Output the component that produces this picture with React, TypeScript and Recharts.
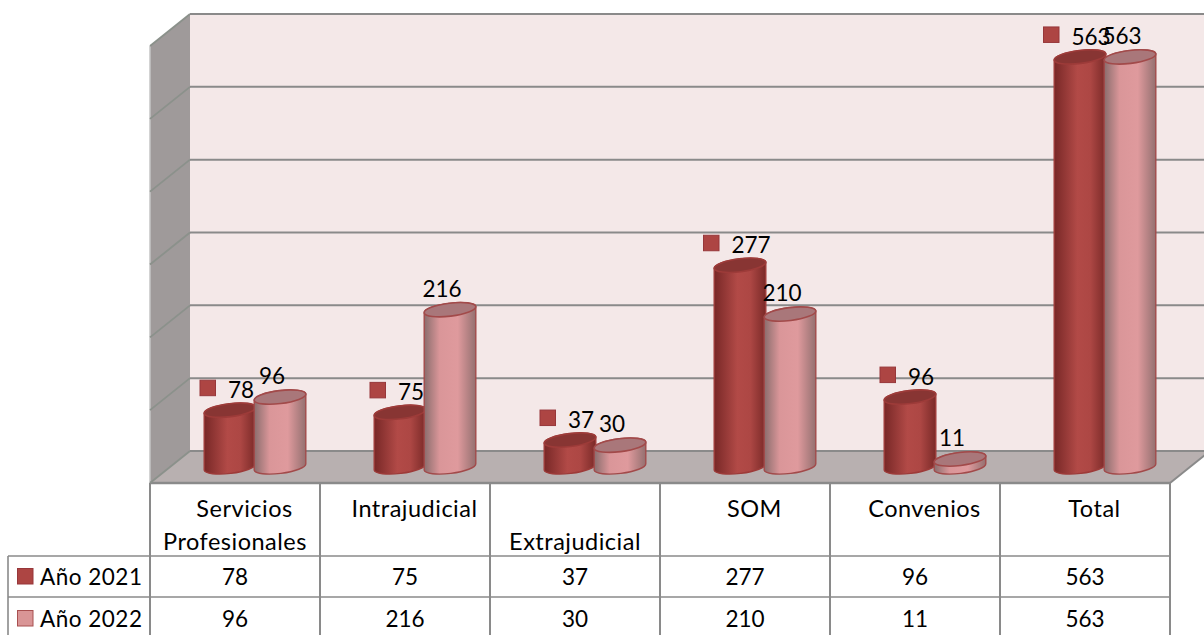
import React from "react";
import { BarChart, Bar, XAxis, YAxis, CartesianGrid, LabelList } from "recharts";

const categories = ["Servicios\nProfesionales", "Intrajudicial", "\nExtrajudicial", "SOM", "Convenios", "Total"];
const seriesNames = ["Año 2021", "Año 2022"];
const values2021 = [78, 75, 37, 277, 96, 563];
const values2022 = [96, 216, 30, 210, 11, 563];
const yTicks = [0, 100, 200, 300, 400, 500, 600];

const data = categories.map((category, i) => ({
  category,
  y2021: values2021[i],
  y2022: values2022[i],
}));

const WIDTH = 1204;
const HEIGHT = 635;
const LEFT = 150;
const RIGHT = 1170;
const TOP = 46;
const BOTTOM = 483;
// depth of the fake 3d box
const DX = 40;
const DY = 32;
// cylinders stand halfway into the box
const BAR_DX = 20;
const BAR_DY = 16;

const FONT = "Lato, sans-serif";
const FONT_SIZE = 22.5;
const NAME_SIZE = 23.5;
const LINE = "#8a8a8a";
const DARK_KEY = "#ad4543";
const LIGHT_KEY = "#d99596";
const ROW1 = 556;
const ROW2 = 597;

// back wall, side wall and floor sit behind the chart's own svg
function Walls() {
  return (
    <svg width={WIDTH} height={HEIGHT} style={{ position: "absolute", left: 0, top: 0 }}>
      <rect x={LEFT + DX} y={TOP - DY} width={RIGHT - LEFT} height={BOTTOM - TOP} fill="#f4e8e8" />
      <polygon
        points={`${LEFT},${TOP} ${LEFT + DX},${TOP - DY} ${LEFT + DX},${BOTTOM - DY} ${LEFT},${BOTTOM}`}
        fill="#9f9a9a"
      />
      <polygon
        points={`${LEFT},${BOTTOM} ${LEFT + DX},${BOTTOM - DY} ${RIGHT + DX},${BOTTOM - DY} ${RIGHT},${BOTTOM}`}
        fill="#b8b0b0"
      />
      <line x1={LEFT} y1={TOP} x2={LEFT} y2={BOTTOM} stroke="#c4c4c4" strokeWidth={1.5} />
      <line x1={LEFT} y1={BOTTOM} x2={RIGHT} y2={BOTTOM} stroke={LINE} strokeWidth={2.5} />
      <line x1={RIGHT} y1={BOTTOM} x2={RIGHT + DX} y2={BOTTOM - DY} stroke={LINE} strokeWidth={2} />
    </svg>
  );
}

// one grid value: runs up the left wall, then across the back wall
function GridLine(props: any) {
  const y = props.y1;
  return (
    <g key={props.key}>
      <line x1={LEFT} y1={y} x2={LEFT + DX} y2={y - DY} stroke="#8b918b" strokeWidth={1.8} />
      <line x1={LEFT + DX} y1={y - DY} x2={RIGHT + DX} y2={y - DY} stroke={LINE} strokeWidth={2} />
    </g>
  );
}

function Cylinder(props: any) {
  const { x, y, width, height, body, cap, edge } = props;
  const cx = x + width / 2 + BAR_DX;
  const top = y - BAR_DY;
  const base = y + height - BAR_DY;
  const rx = 26;
  const ry = 6.5;
  const ox = 25.8;
  const oy = 3.2;
  const d =
    `M${cx - ox},${top + oy} L${cx - ox},${base + oy} ` +
    `A${rx},${ry} -7 0 0 ${cx + ox},${base - oy} L${cx + ox},${top - oy} ` +
    `A${rx},${ry} -7 0 0 ${cx - ox},${top + oy} Z`;
  return (
    <g>
      <path d={d} fill={body} stroke={edge} strokeWidth={1.4} />
      <ellipse
        cx={cx}
        cy={top}
        rx={rx}
        ry={ry}
        transform={`rotate(-7 ${cx} ${top})`}
        fill={cap}
        stroke={edge}
        strokeWidth={1.6}
      />
    </g>
  );
}

function DarkLabel(props: any) {
  const { x, y, width, value } = props;
  const cx = x + width / 2 + BAR_DX;
  const top = y - BAR_DY;
  const textX = cx + 11;
  const w = String(value).length * 13;
  return (
    <g>
      <rect
        x={textX - w / 2 - 28}
        y={top - 30}
        width={15.5}
        height={15.5}
        fill={DARK_KEY}
        stroke="#97373a"
        strokeWidth={1}
      />
      <text x={textX} y={top - 12} textAnchor="middle" fontFamily={FONT} fontSize={FONT_SIZE} fill="#000">
        {value}
      </text>
    </g>
  );
}

function LightLabel(props: any) {
  const { x, y, width, value } = props;
  const cx = x + width / 2 + BAR_DX;
  const top = y - BAR_DY;
  return (
    <text x={cx - 8} y={top - 13} textAnchor="middle" fontFamily={FONT} fontSize={FONT_SIZE} fill="#000">
      {value}
    </text>
  );
}

// category names and the two value rows of the data table hang off each x tick
function TableColumn(props: any) {
  const { x, payload, index } = props;
  const lines = String(payload.value).split("\n");
  const left = x - 85;
  const right = x + 85;
  return (
    <g fontFamily={FONT} fontSize={FONT_SIZE} fill="#000" textAnchor="middle">
      <line x1={left} y1={BOTTOM} x2={left} y2={HEIGHT} stroke={LINE} strokeWidth={2} />
      <line x1={right} y1={BOTTOM} x2={right} y2={HEIGHT} stroke={LINE} strokeWidth={2} />
      <line x1={left} y1={ROW1} x2={right} y2={ROW1} stroke={LINE} strokeWidth={1.6} />
      <line x1={left} y1={ROW2} x2={right} y2={ROW2} stroke={LINE} strokeWidth={1.6} />
      <text x={x + 9.5} y={517} fill="#000" fontSize={NAME_SIZE} letterSpacing={0.5}>{lines[0]}</text>
      {lines[1] ? <text x={x} y={550} fill="#000" fontSize={NAME_SIZE} letterSpacing={0.5}>{lines[1]}</text> : null}
      <text x={x} y={585} fill="#000">{values2021[index]}</text>
      <text x={x} y={627} fill="#000">{values2022[index]}</text>
    </g>
  );
}

function TableLegend() {
  return (
    <g fontFamily={FONT} fontSize={FONT_SIZE} fill="#000" letterSpacing={0.5}>
      <line x1={8} y1={ROW1} x2={LEFT} y2={ROW1} stroke={LINE} strokeWidth={1.6} />
      <line x1={8} y1={ROW2} x2={LEFT} y2={ROW2} stroke={LINE} strokeWidth={1.6} />
      <line x1={8} y1={ROW1} x2={8} y2={HEIGHT} stroke={LINE} strokeWidth={1.6} />
      <rect x={17.5} y={568.5} width={15.5} height={15.5} fill={DARK_KEY} stroke="#97373a" />
      <rect x={17.5} y={610.5} width={15.5} height={15.5} fill={LIGHT_KEY} stroke="#a85050" />
      <text x={40} y={585}>{seriesNames[0]}</text>
      <text x={40} y={627}>{seriesNames[1]}</text>
    </g>
  );
}

export default function App() {
  return (
    <div style={{ position: "absolute", left: 0, top: 0, width: WIDTH, height: HEIGHT, overflow: "hidden", background: "#fff" }}>
      <Walls />
      <BarChart
        width={WIDTH}
        height={HEIGHT}
        data={data}
        barSize={50}
        barGap={0}
        margin={{ top: TOP, right: WIDTH - RIGHT, bottom: 0, left: LEFT }}
      >
        <defs>
          <linearGradient id="darkBody" x1="0" y1="0" x2="1" y2="0">
            <stop offset="0%" stopColor="#782827" />
            <stop offset="45%" stopColor="#b24a47" />
            <stop offset="70%" stopColor="#ad4744" />
            <stop offset="100%" stopColor="#7a2a28" />
          </linearGradient>
          <linearGradient id="lightBody" x1="0" y1="0" x2="1" y2="0">
            <stop offset="0%" stopColor="#8a6d6d" />
            <stop offset="30%" stopColor="#da9699" />
            <stop offset="65%" stopColor="#df9a9d" />
            <stop offset="100%" stopColor="#947070" />
          </linearGradient>
        </defs>
        <CartesianGrid vertical={false} horizontal={GridLine} />
        <XAxis
          dataKey="category"
          interval={0}
          axisLine={false}
          tickLine={false}
          tickSize={0}
          tickMargin={0}
          height={HEIGHT - BOTTOM}
          tick={TableColumn}
        />
        <YAxis hide domain={[0, 600]} ticks={yTicks} width={0} />
        <TableLegend />
        <Bar
          dataKey="y2021"
          isAnimationActive={false}
          shape={(p: any) => <Cylinder {...p} body="url(#darkBody)" cap="#883533" edge="#9d3b39" />}
        >
          <LabelList dataKey="y2021" content={DarkLabel} />
        </Bar>
        <Bar
          dataKey="y2022"
          isAnimationActive={false}
          shape={(p: any) => <Cylinder {...p} body="url(#lightBody)" cap="#a9777a" edge="#a24a4a" />}
        >
          <LabelList dataKey="y2022" content={LightLabel} />
        </Bar>
      </BarChart>
    </div>
  );
}
